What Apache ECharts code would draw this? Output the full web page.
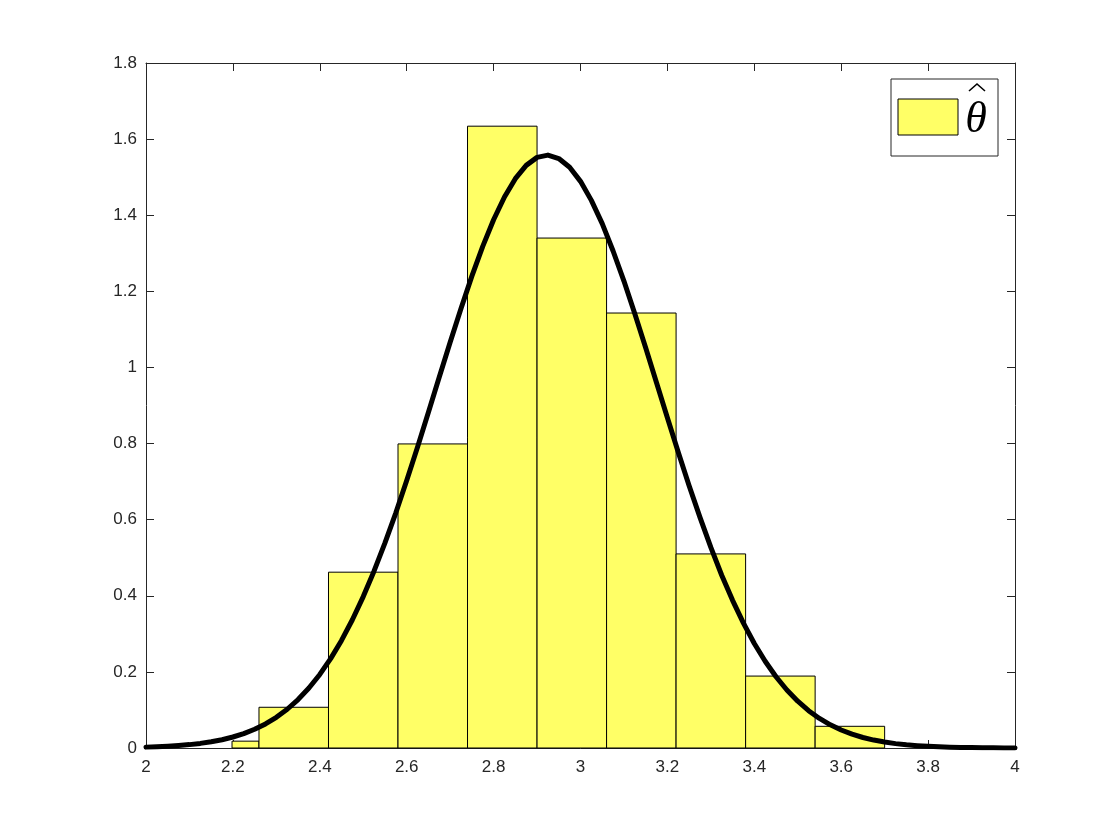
<!DOCTYPE html>
<html>
<head>
<meta charset="utf-8">
<script src="https://cdn.jsdelivr.net/npm/echarts@6/dist/echarts.min.js"></script>
<style>html,body{margin:0;padding:0;background:#fff}#c{width:1120px;height:840px}</style>
</head>
<body>
<div id="c"></div>
<script>
// Histogram bins (left edge, right edge) and density heights
const binLeft  = [2.198, 2.26, 2.42, 2.58, 2.74, 2.90, 3.06, 3.22, 3.38, 3.54];
const binRight = [2.26, 2.42, 2.58, 2.74, 2.90, 3.06, 3.22, 3.38, 3.54, 3.70];
const binHeight = [0.018, 0.107, 0.462, 0.799, 1.634, 1.340, 1.143, 0.510, 0.189, 0.057];

// Fitted density curve
const curveX = [2.000,2.025,2.050,2.075,2.100,2.125,2.150,2.175,2.200,2.225,2.250,2.275,2.300,2.325,2.350,2.375,2.400,2.425,2.450,2.475,2.500,2.525,2.550,2.575,2.600,2.625,2.650,2.675,2.700,2.725,2.750,2.775,2.800,2.825,2.850,2.875,2.900,2.925,2.950,2.975,3.000,3.025,3.050,3.075,3.100,3.125,3.150,3.175,3.200,3.225,3.250,3.275,3.300,3.325,3.350,3.375,3.400,3.425,3.450,3.475,3.500,3.525,3.550,3.575,3.600,3.625,3.650,3.675,3.700,3.725,3.750,3.775,3.800,3.825,3.850,3.875,3.900,3.925,3.950,3.975,4.000];
const curveY = [0.0023,0.0033,0.0047,0.0065,0.0089,0.0121,0.0163,0.0218,0.0289,0.0379,0.0492,0.0633,0.0807,0.1018,0.1273,0.1575,0.1933,0.2348,0.2827,0.3370,0.3979,0.4652,0.539,0.618,0.703,0.791,0.882,0.975,1.066,1.155,1.240,1.318,1.388,1.448,1.496,1.531,1.552,1.558,1.549,1.526,1.489,1.439,1.378,1.306,1.227,1.141,1.052,0.960,0.868,0.777,0.689,0.606,0.527,0.454,0.388,0.328,0.2746,0.2278,0.1873,0.1524,0.1229,0.0981,0.0776,0.0608,0.0472,0.0363,0.0276,0.0208,0.0156,0.0115,0.0084,0.0061,0.0044,0.0031,0.0022,0.0015,0.0011,0.0007,0.0005,0.0003,0.0002];

const xTicks = [2, 2.2, 2.4, 2.6, 2.8, 3, 3.2, 3.4, 3.6, 3.8, 4];
const yTicks = [0, 0.2, 0.4, 0.6, 0.8, 1, 1.2, 1.4, 1.6, 1.8];
const legendLabel = 'θ';

const barData = binLeft.map((l, i) => [l, binRight[i], binHeight[i]]);
const curveData = curveX.map((x, i) => [x, curveY[i]]);

const axisFont = {color: '#262626', fontSize: 17, fontFamily: 'Liberation Sans, Arial, sans-serif'};
const lineStyle = {color: '#262626', width: 1};

const chart = echarts.init(document.getElementById('c'), null, {renderer: 'canvas'});
chart.setOption({
  animation: false,
  backgroundColor: '#fff',
  grid: {left: 146, right: 105, top: 63, bottom: 92, show: false},
  xAxis: [
    {type: 'value', min: xTicks[0], max: xTicks[xTicks.length-1], interval: 0.2, position: 'bottom',
     axisLine: {show: true, onZero: false, lineStyle}, axisTick: {show: true, inside: true, length: 8, lineStyle},
     axisLabel: Object.assign({margin: 11, formatter: v => String(Math.round(v*10)/10)}, axisFont),
     splitLine: {show: false}},
    {type: 'value', min: xTicks[0], max: xTicks[xTicks.length-1], interval: 0.2, position: 'top',
     axisLine: {show: true, onZero: false, lineStyle}, axisTick: {show: true, inside: true, length: 8, lineStyle},
     axisLabel: {show: false}, splitLine: {show: false}}
  ],
  yAxis: [
    {type: 'value', min: yTicks[0], max: yTicks[yTicks.length-1], interval: 0.2, position: 'left',
     axisLine: {show: true, onZero: false, lineStyle}, axisTick: {show: true, inside: true, length: 8, lineStyle},
     axisLabel: Object.assign({margin: 9, formatter: v => String(Math.round(v*10)/10)}, axisFont),
     splitLine: {show: false}},
    {type: 'value', min: yTicks[0], max: yTicks[yTicks.length-1], interval: 0.2, position: 'right',
     axisLine: {show: true, onZero: false, lineStyle}, axisTick: {show: true, inside: true, length: 8, lineStyle},
     axisLabel: {show: false}, splitLine: {show: false}}
  ],
  series: [
    {
      type: 'custom', name: 'theta', xAxisIndex: 0, yAxisIndex: 0,
      data: barData,
      encode: {x: [0, 1], y: 2},
      renderItem: function (params, api) {
        const p0 = api.coord([api.value(0), 0]);
        const p1 = api.coord([api.value(1), api.value(2)]);
        return {
          type: 'rect',
          shape: {x: p0[0], y: p1[1], width: p1[0] - p0[0], height: p0[1] - p1[1]},
          style: {fill: '#FFFF66', stroke: '#000', lineWidth: 1}
        };
      },
      z: 2
    },
    {
      type: 'line', xAxisIndex: 0, yAxisIndex: 0, data: curveData, smooth: false,
      showSymbol: false, symbol: 'none',
      lineStyle: {color: '#000', width: 5, join: 'round', cap: 'round'}, z: 5
    }
  ],
  graphic: [
    {type: 'rect', shape: {x: 891, y: 79, width: 107, height: 77},
     style: {fill: '#fff', stroke: '#262626', lineWidth: 1}, z: 10},
    {type: 'rect', shape: {x: 898, y: 99, width: 60, height: 36},
     style: {fill: '#FFFF66', stroke: '#000', lineWidth: 1}, z: 11},
    {type: 'text', x: 976, y: 120, z: 11,
     style: {text: legendLabel, font: 'italic 44px "Liberation Serif", "DejaVu Serif", serif', fill: '#000', align: 'center', verticalAlign: 'middle'}},
    {type: 'polyline', z: 11, shape: {points: [[969, 91], [977, 84], [985, 91]]},
     style: {stroke: '#000', lineWidth: 1.6, fill: null}}
  ]
});
</script>
</body>
</html>
